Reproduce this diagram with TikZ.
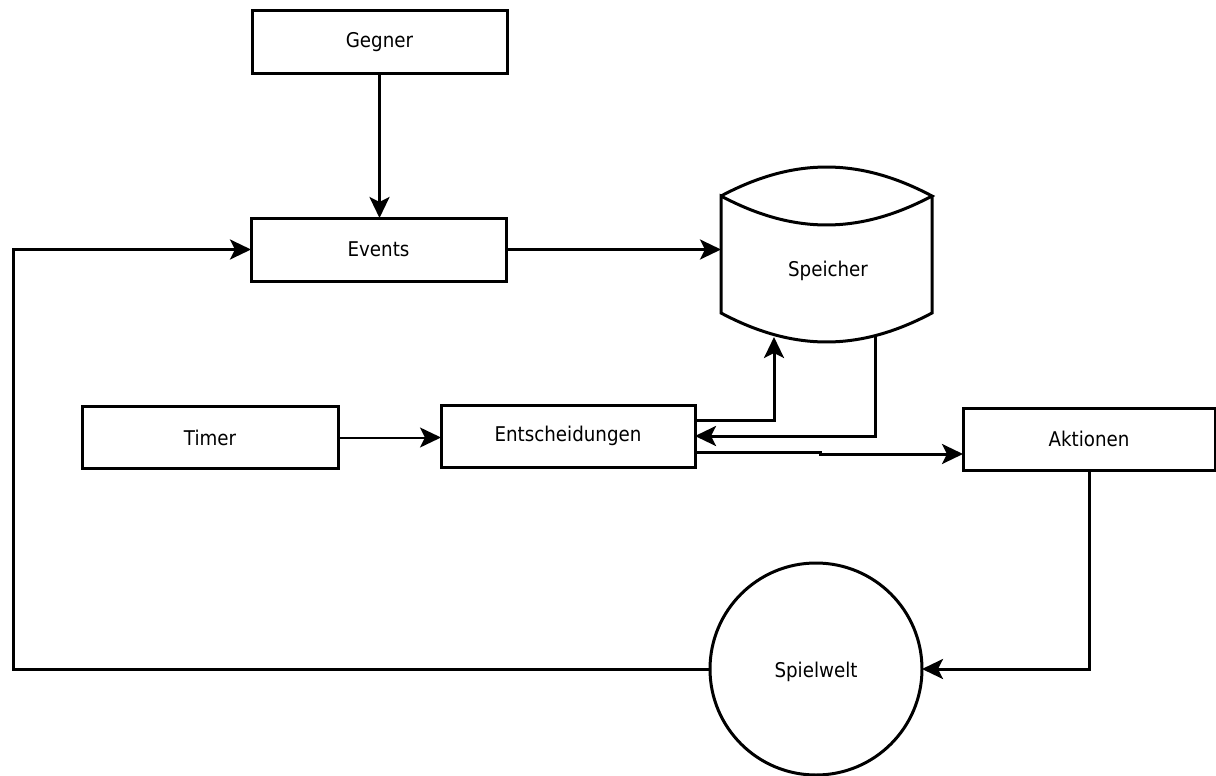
\documentclass[tikz,border=0pt]{standalone}
\usepackage{fontspec}
\setmainfont{DejaVu Sans}[FakeStretch=0.9]
\usetikzlibrary{arrows.meta}
\begin{document}
\begin{tikzpicture}[x=1pt,y=-1pt,
  line width=3pt,
  txt/.style={font=\fontsize{20.3}{24}\selectfont, inner sep=0pt},
  box/.style={draw, txt, line width=3pt, minimum width=255pt,
    minimum height=63pt, outer sep=0pt},
  flow/.style={-{Stealth[length=21pt,width=20pt,inset=5pt]}, line width=3pt},
  thinflow/.style={flow, line width=2pt}
]
\useasboundingbox (0,0) rectangle (1216,776);

% boxes
\node[box] (gegner) at (379.5,42) {Gegner};
\node[box] (events) at (378.5,249.5) {Events};
\node[box, minimum width=256pt, minimum height=62pt] (timer) at (210,437.5) {Timer};
\node[box, minimum width=254pt, minimum height=62pt] (ent) at (568,436) {Entscheidungen};
\node[box, minimum width=252pt, minimum height=62pt] (akt) at (1089,439) {Aktionen};
\node[draw, circle, minimum size=212pt, inner sep=0pt, outer sep=0pt, line width=3pt] (welt) at (816,669) {};
\node[txt] at (816,672) {Spielwelt};

% storage drum
\node[inner sep=0pt, outer sep=0pt, minimum width=211pt, minimum height=117pt] (speicher) at (826.5,254.5) {};
\draw[line join=miter] (speicher.north west) to[bend left=28] (speicher.north east)
  to[bend left=28] (speicher.north west) -- (speicher.south west)
  to[bend right=28] (speicher.south east) -- (speicher.north east);
\node[txt] at (828,271) {Speicher};

% connector end points
\coordinate (spin) at (774,337);
\coordinate (spout) at (875,335);
\coordinate (jog) at (820,452);
\coordinate (loop) at (13,669);

% connectors
\draw[flow] (gegner.south) -- (gegner.south |- events.north);
\draw[flow] (events.east) -- (events.east -| speicher.west);
\draw[thinflow] (timer.east) -- (timer.east -| ent.west);
\draw[flow] ([yshift=-15pt]ent.north east) -| (spin);
\draw[flow] (spout) |- (ent.east);
\draw[flow] ([yshift=-16pt]ent.east) -- (jog) -- ++(0,2) -- ([yshift=-15pt]akt.west);
\draw[flow] (akt.south) |- (welt.east);
\draw[flow] (welt.west) -- (loop) |- (events.west);
\end{tikzpicture}
\end{document}
